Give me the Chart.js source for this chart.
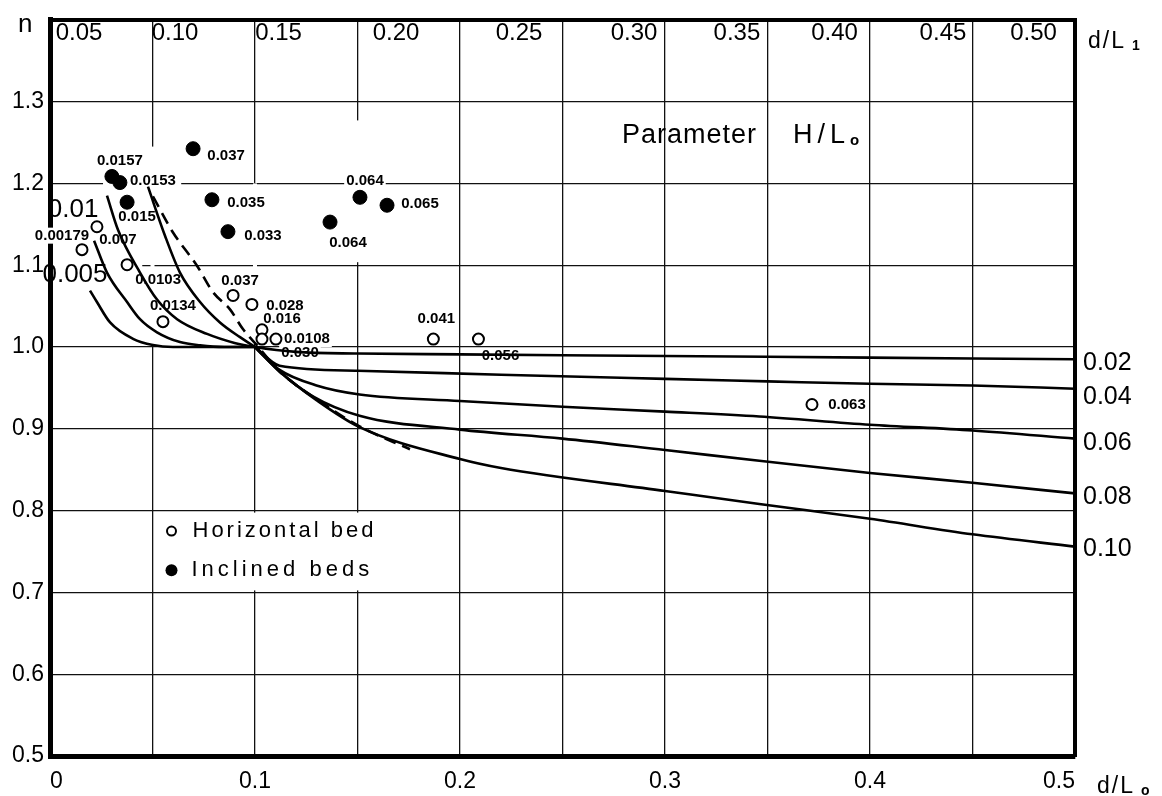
<!DOCTYPE html>
<html>
<head>
<meta charset="utf-8">
<script src="https://cdn.jsdelivr.net/npm/chart.js@4.4.0/dist/chart.umd.min.js"></script>
<style>
html,body{margin:0;padding:0;background:#fff;}
#wrap{width:1162px;height:796px;}
</style>
</head>
<body>
<div id="wrap"><canvas id="c" width="1162" height="796"></canvas></div>
<script>
// ---------------- DATA ----------------
// bottom axis (d/Lo)
const xTickValues = [0,0.05,0.1,0.15,0.2,0.25,0.3,0.35,0.4,0.45,0.5];
const xTickLabels = ['0','','0.1','','0.2','','0.3','','0.4','','0.5'];
// left axis (n)
const yTickValues = [0.5,0.6,0.7,0.8,0.9,1.0,1.1,1.2,1.3];
const yTickLabels = ['0.5','0.6','0.7','0.8','0.9','1.0','1.1','1.2','1.3'];
// top axis (d/L1) : positions read on the d/Lo scale
const topTickPos = [0.0142,0.0610,0.1115,0.1688,0.2288,0.2849,0.3351,0.3827,0.4356,0.4798];
const topTickLabels = ['0.05','0.10','0.15','0.20','0.25','0.30','0.35','0.40','0.45','0.50'];

// curves, parameter H/Lo
const c005X = [0.0195,0.0229,0.0293,0.0405,0.0502,0.060,0.075,0.1];
const c005Y = [1.069,1.055,1.030,1.010,1.0024,1.0,1.0,1.0];
const c01X  = [0.0215,0.0278,0.0376,0.0439,0.0522,0.0634,0.0732,0.085,0.1];
const c01Y  = [1.130,1.091,1.055,1.034,1.018,1.006,1.002,1.0,1.0];
const c02X  = [0.0278,0.0332,0.0439,0.0522,0.062,0.0766,0.09,0.1,0.12,0.15,0.2,0.3,0.4,0.5];
const c02Y  = [1.185,1.143,1.091,1.058,1.034,1.016,1.005,1.0,0.994,0.992,0.991,0.989,0.987,0.985];
const c04X  = [0.0478,0.0561,0.0634,0.0732,0.0829,0.0927,0.1,0.112,0.15,0.22,0.3,0.35,0.4,0.45,0.5];
const c04Y  = [1.196,1.136,1.091,1.055,1.030,1.012,1.0,0.977,0.971,0.966,0.961,0.958,0.955,0.953,0.949];
const c06X  = [0.1,0.112,0.13,0.151,0.2,0.25,0.3,0.346,0.4,0.45,0.5];
const c06Y  = [1.0,0.972,0.953,0.942,0.934,0.927,0.921,0.915,0.905,0.898,0.888];
const c08X  = [0.1,0.112,0.128,0.151,0.2,0.25,0.3,0.346,0.4,0.45,0.5];
const c08Y  = [1.0,0.970,0.940,0.916,0.899,0.888,0.874,0.861,0.846,0.834,0.821];
const c10X  = [0.1,0.112,0.13,0.151,0.2,0.22,0.3,0.346,0.4,0.45,0.5];
const c10Y  = [1.0,0.970,0.935,0.902,0.863,0.852,0.824,0.808,0.790,0.771,0.756];
const limitX = [0.0502,0.060,0.0717,0.0795,0.0878,0.0941,0.101,0.112,0.132,0.151,0.1756];
const limitY = [1.184,1.140,1.0994,1.067,1.046,1.022,1.002,0.970,0.933,0.903,0.875];

// experiments
const horizX = [0.0156,0.0229,0.0376,0.0551,0.0893,0.0985,0.1034,0.1034,0.1102,0.187,0.209,0.3717];
const horizY = [1.119,1.147,1.1006,1.031,1.063,1.052,1.021,1.0097,1.0097,1.0097,1.0097,0.9297];
const horizLabels = ['0.00179','0.007','0.0103','0.0134','0.037','0.028','0.016','0.030','0.0108','0.041','0.056','0.063'];
const inclX = [0.0302,0.0341,0.0376,0.0698,0.079,0.0868,0.1366,0.1512,0.1644];
const inclY = [1.2085,1.201,1.177,1.2424,1.18,1.141,1.1527,1.183,1.1733];
const inclLabels = ['0.0157','0.0153','0.015','0.037','0.035','0.033','0.064','0.064','0.065'];

// ---------------- STYLE ----------------
// label offsets in px
const horizDx = [-20,21,31,10,7,33,20,38,31,3,22,35];
const horizDy = [-14,13,15,-16,-15,1,-11,14,0,-20,17,0];
const inclDx = [8,33,10,33,34,35,18,5,33];
const inclDy = [-16,-2,15,7,3,4,21,-16,-1];
// parts of the grid left blank on the original sheet (data units)
const vGridGaps = [[0.05,1.0,1.245],[0.1,1.0,1.2],[0.15,1.1,1.277]];
const hGridGaps = [[1.2,0.0244,0.064],[1.1,0.0,0.045]];

const FONT = '"Liberation Sans", Arial, Helvetica, sans-serif';
const BLACK = '#000';

function pts(xs, ys){ return xs.map((x,i)=>({x:x, y:ys[i]})); }

const curveDefs = [
  {name:'0.005', xs:c005X, ys:c005Y, at:'first', dx:-15, dy:-16, size:26, align:'center'},
  {name:'0.01',  xs:c01X,  ys:c01Y,  at:'first', dx:-21, dy:-31, size:26, align:'center'},
  {name:'0.02',  xs:c02X,  ys:c02Y,  at:'last',  dx:8, dy:4, size:25, align:'left'},
  {name:'0.04',  xs:c04X,  ys:c04Y,  at:'last',  dx:8, dy:8, size:25, align:'left'},
  {name:'0.06',  xs:c06X,  ys:c06Y,  at:'last',  dx:8, dy:4, size:25, align:'left'},
  {name:'0.08',  xs:c08X,  ys:c08Y,  at:'last',  dx:8, dy:4, size:25, align:'left'},
  {name:'0.10',  xs:c10X,  ys:c10Y,  at:'last',  dx:8, dy:3, size:25, align:'left'}
];

const datasets = [];
datasets.push({
  label:'Inclined beds', data:pts(inclX, inclY), showLine:false,
  pointStyle:'circle', pointRadius:7, pointBackgroundColor:BLACK, pointBorderColor:BLACK, pointBorderWidth:1,
  ptLabels:inclLabels, ptDx:inclDx, ptDy:inclDy, order:0
});
datasets.push({
  label:'Horizontal bed', data:pts(horizX, horizY), showLine:false,
  pointStyle:'circle', pointRadius:5.5, pointBackgroundColor:'#fff', pointBorderColor:BLACK, pointBorderWidth:2,
  ptLabels:horizLabels, ptDx:horizDx, ptDy:horizDy, order:0
});
curveDefs.forEach(c=>{
  datasets.push({
    label:'H/Lo '+c.name, data:pts(c.xs,c.ys), borderColor:BLACK, borderWidth:2.6,
    pointRadius:0, cubicInterpolationMode:'monotone', fill:false, curveLabel:c, order:1
  });
});
datasets.push({
  label:'limit', data:pts(limitX,limitY), borderColor:BLACK, borderWidth:2.6, borderDash:[12,7],
  pointRadius:0, cubicInterpolationMode:'monotone', fill:false, order:1
});

function measureBox(ctx, s, font){
  ctx.font = font;
  return ctx.measureText(s).width;
}

const PT_FONT = 'bold 15px ' + FONT;

const paperPlugin = {
  id:'paper',
  beforeDraw(chart){
    const ctx = chart.ctx;
    ctx.save(); ctx.fillStyle='#fff'; ctx.fillRect(0,0,chart.width,chart.height); ctx.restore();
  },
  beforeDatasetsDraw(chart){
    const ctx = chart.ctx;
    const xs = chart.scales.x, ys = chart.scales.y;
    ctx.save();
    ctx.fillStyle = '#fff';
    // blank grid stretches
    vGridGaps.forEach(g=>{
      const px = xs.getPixelForValue(g[0]);
      const a = ys.getPixelForValue(g[2]), b = ys.getPixelForValue(g[1]);
      ctx.fillRect(px-2, a, 4, b-a-3);
    });
    hGridGaps.forEach(g=>{
      const py = ys.getPixelForValue(g[0]);
      const a = xs.getPixelForValue(g[1]) + 3, b = xs.getPixelForValue(g[2]);
      ctx.fillRect(a, py-2, b-a, 4);
    });
    // white backgrounds behind point labels
    chart.data.datasets.forEach((d, di)=>{
      if(!d.ptLabels) return;
      const meta = chart.getDatasetMeta(di);
      meta.data.forEach((el,i)=>{
        const w = measureBox(ctx, d.ptLabels[i], PT_FONT);
        const cx = el.x + d.ptDx[i], cy = el.y + d.ptDy[i];
        ctx.fillRect(cx - w/2 - 2, cy - 8, w + 4, 16);
      });
    });
    // legend cell
    const lx0 = xs.getPixelForValue(0.05)+2, lx1 = xs.getPixelForValue(0.2)-2;
    const ly0 = ys.getPixelForValue(0.8)+2, ly1 = ys.getPixelForValue(0.7)-2;
    ctx.fillRect(lx0, ly0, lx1-lx0, ly1-ly0);
    ctx.restore();
  },
  afterDatasetsDraw(chart){
    const ctx = chart.ctx;
    const xs = chart.scales.x, ys = chart.scales.y;
    const ca = chart.chartArea;
    ctx.save();
    ctx.fillStyle = BLACK;
    ctx.textBaseline = 'middle';
    // point labels
    chart.data.datasets.forEach((d, di)=>{
      if(!d.ptLabels) return;
      const meta = chart.getDatasetMeta(di);
      meta.data.forEach((el,i)=>{
        ctx.font = PT_FONT;
        ctx.textAlign = 'center';
        ctx.fillText(d.ptLabels[i], el.x + d.ptDx[i], el.y + d.ptDy[i]);
      });
    });
    // curve labels
    chart.data.datasets.forEach((d, di)=>{
      const c = d.curveLabel; if(!c) return;
      const meta = chart.getDatasetMeta(di);
      const el = c.at === 'first' ? meta.data[0] : meta.data[meta.data.length-1];
      ctx.font = c.size + 'px ' + FONT;
      ctx.textAlign = c.align;
      ctx.fillText(c.name, el.x + c.dx, el.y + c.dy);
    });
    // legend
    const lx = xs.getPixelForValue(0.05);
    const l1 = ys.getPixelForValue(0.775), l2 = ys.getPixelForValue(0.727);
    ctx.lineWidth = 2;
    ctx.strokeStyle = BLACK;
    ctx.beginPath(); ctx.arc(lx+19, l1, 4.5, 0, Math.PI*2); ctx.stroke();
    ctx.beginPath(); ctx.arc(lx+19, l2, 6, 0, Math.PI*2); ctx.fill();
    ctx.font = '22px ' + FONT;
    ctx.textAlign = 'left';
    ctx.letterSpacing = '3px';
    ctx.fillText('Horizontal bed', lx+40, l1);
    ctx.letterSpacing = '4px';
    ctx.fillText('Inclined beds', lx+39, l2);
    // parameter text
    const px = xs.getPixelForValue(0.279), py = ys.getPixelForValue(1.258);
    ctx.font = '27px ' + FONT;
    ctx.letterSpacing = '1px';
    ctx.fillText('Parameter', px, py);
    ctx.letterSpacing = '5px';
    ctx.fillText('H/L', px+171, py);
    ctx.letterSpacing = '0px';
    ctx.font = 'bold 15px ' + FONT;
    ctx.fillText('o', px+228, py+5);
    // axis titles
    ctx.font = '26px ' + FONT;
    ctx.textAlign = 'left';
    ctx.fillText('n', 18, ca.top + 5);
    ctx.font = '23px ' + FONT;
    ctx.letterSpacing = '2px';
    ctx.fillText('d/L', ca.right + 13, ca.top + 22);
    ctx.fillText('d/L', ca.right + 22, ca.bottom + 31);
    ctx.letterSpacing = '0px';
    ctx.font = 'bold 14px ' + FONT;
    ctx.fillText('1', ca.right + 57, ca.top + 26);
    ctx.fillText('o', ca.right + 66, ca.bottom + 35);
    ctx.restore();
  }
};

const chart = new Chart(document.getElementById('c'), {
  type:'line',
  data:{ datasets: datasets },
  options:{
    responsive:false,
    animation:false,
    devicePixelRatio:1,
    events:[],
    layout:{ padding:{ left:0, right:87, top:12, bottom:0 } },
    plugins:{ legend:{display:false}, tooltip:{enabled:false}, title:{display:false} },
    scales:{
      x:{
        type:'linear', position:'bottom', min:0, max:0.5,
        afterBuildTicks(s){ s.ticks = xTickValues.map(v=>({value:v})); },
        afterFit(s){ s.height = 40; },
        ticks:{ callback:(v,i)=>xTickLabels[i], color:BLACK, font:{family:FONT, size:23}, padding:12,
                align:'inner', maxRotation:0, autoSkip:false },
        grid:{ color:'#111', lineWidth:1.3, drawTicks:false },
        border:{ color:BLACK, width:5 }
      },
      x2:{
        type:'linear', position:'top', min:0, max:0.5,
        afterBuildTicks(s){ s.ticks = topTickPos.map(v=>({value:v})); },
        afterFit(s){ s.height = 0; },
        ticks:{ callback:(v,i)=>topTickLabels[i], color:BLACK, font:{family:FONT, size:24}, padding:-1,
                mirror:true, maxRotation:0, autoSkip:false },
        grid:{ display:false, drawTicks:false },
        border:{ color:BLACK, width:4 }
      },
      y:{
        type:'linear', position:'left', min:0.5, max:1.4,
        afterBuildTicks(s){ s.ticks = yTickValues.map(v=>({value:v})); },
        afterFit(s){ s.width = 50; },
        ticks:{ callback:(v,i)=>yTickLabels[i], color:BLACK, font:{family:FONT, size:23}, padding:6, autoSkip:false },
        grid:{ color:'#111', lineWidth:1.3, drawTicks:false },
        border:{ color:BLACK, width:5 }
      },
      y2:{
        type:'linear', position:'right', min:0.5, max:1.4,
        afterFit(s){ s.width = 0; },
        ticks:{ display:false },
        grid:{ display:false, drawTicks:false },
        border:{ color:BLACK, width:4 }
      }
    }
  },
  plugins:[paperPlugin]
});
</script>
</body>
</html>
